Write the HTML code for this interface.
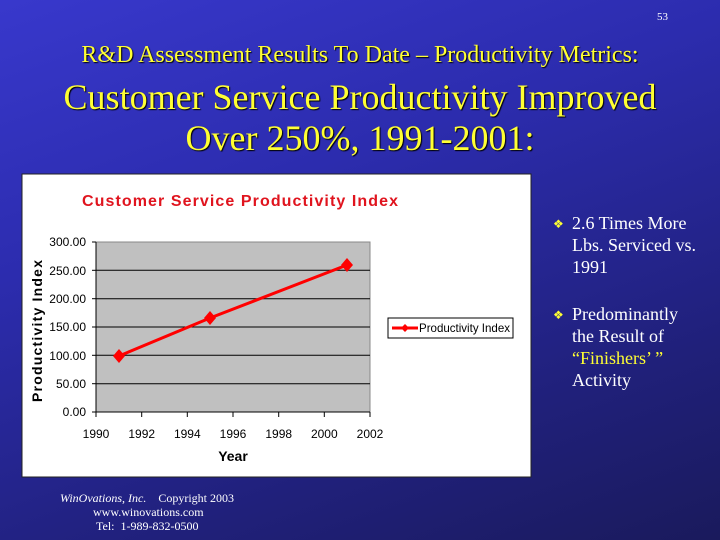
<!DOCTYPE html>
<html><head><style>
body{margin:0;width:720px;height:540px;overflow:hidden;font-family:"Liberation Serif",serif;}
#bg{position:absolute;left:0;top:0;width:720px;height:540px;background:linear-gradient(160deg,#3838cc 0%,#2c2cae 35%,#20207a 75%,#1a1a5c 100%);}
.t{position:absolute;color:#ffff33;text-align:center;width:720px;left:0;white-space:nowrap;text-shadow:1px 1px 1px #000;}
.w{position:absolute;color:#fff;font-size:18px;line-height:22px;}
</style></head><body><div id="bg"></div>
<div class="w" style="left:657px;top:6px;font-size:11px;">53</div>
<div class="t" style="top:42px;font-size:24px;">R&amp;D Assessment Results To Date – Productivity Metrics:</div>
<div class="t" style="top:76px;font-size:36px;">Customer Service Productivity Improved</div>
<div class="t" style="top:117px;font-size:36px;">Over 250%, 1991-2001:</div>
<svg style="position:absolute;left:0;top:0" width="720" height="540">
<rect x="22" y="174" width="509" height="303" fill="#fff" stroke="#222" stroke-width="1"/>
<text x="240" y="206" text-anchor="middle" fill="#e0141e" font-family="Liberation Sans" font-weight="bold" font-size="16" textLength="316" lengthAdjust="spacing">Customer Service Productivity Index</text>
<rect x="96" y="242" width="274" height="170" fill="#c0c0c0" stroke="#888"/>
<g stroke="#000" stroke-width="1">
<line x1="96" y1="270.3" x2="370" y2="270.3"/><line x1="96" y1="298.7" x2="370" y2="298.7"/>
<line x1="96" y1="327" x2="370" y2="327"/><line x1="96" y1="355.3" x2="370" y2="355.3"/>
<line x1="96" y1="383.7" x2="370" y2="383.7"/>
<line x1="96" y1="242" x2="96" y2="412"/><line x1="92" y1="412" x2="370" y2="412"/>
<line x1="92" y1="242" x2="96" y2="242"/><line x1="92" y1="270.3" x2="96" y2="270.3"/><line x1="92" y1="298.7" x2="96" y2="298.7"/><line x1="92" y1="327" x2="96" y2="327"/><line x1="92" y1="355.3" x2="96" y2="355.3"/><line x1="92" y1="383.7" x2="96" y2="383.7"/>
<line x1="96" y1="412" x2="96" y2="417"/><line x1="141.7" y1="412" x2="141.7" y2="417"/><line x1="187.3" y1="412" x2="187.3" y2="417"/><line x1="233" y1="412" x2="233" y2="417"/><line x1="278.7" y1="412" x2="278.7" y2="417"/><line x1="324.3" y1="412" x2="324.3" y2="417"/><line x1="370" y1="412" x2="370" y2="417"/>
</g>
<g font-family="Liberation Sans" font-size="12" fill="#000" text-anchor="end">
<text x="86" y="246">300.00</text><text x="86" y="275">250.00</text><text x="86" y="303">200.00</text><text x="86" y="331">150.00</text><text x="86" y="360">100.00</text><text x="86" y="388">50.00</text><text x="86" y="416">0.00</text>
</g>
<g font-family="Liberation Sans" font-size="12" fill="#000" text-anchor="middle">
<text x="96" y="438">1990</text><text x="141.7" y="438">1992</text><text x="187.3" y="438">1994</text><text x="233" y="438">1996</text><text x="278.7" y="438">1998</text><text x="324.3" y="438">2000</text><text x="370" y="438">2002</text>
</g>
<text x="233" y="461" text-anchor="middle" font-family="Liberation Sans" font-weight="bold" font-size="14">Year</text>
<text transform="translate(42,331) rotate(-90)" text-anchor="middle" font-family="Liberation Sans" font-weight="bold" font-size="14" textLength="142" lengthAdjust="spacing">Productivity Index</text>
<polyline points="119,356 210,318 347,265" fill="none" stroke="#f00" stroke-width="3"/>
<g fill="#f00"><path d="M119,349 L125,356 L119,363 L113,356Z"/><path d="M210,311 L216,318 L210,325 L204,318Z"/><path d="M347,258 L353,265 L347,272 L341,265Z"/></g>
<rect x="388" y="318" width="125" height="20" fill="#fff" stroke="#000"/>
<line x1="392" y1="328" x2="418" y2="328" stroke="#f00" stroke-width="3"/>
<path d="M405,324 L409,328 L405,332 L401,328Z" fill="#f00"/>
<text x="419" y="332" font-family="Liberation Sans" font-size="12" textLength="91" lengthAdjust="spacingAndGlyphs">Productivity Index</text>
<g fill="#ffff33" font-size="12"><text x="553" y="228">❖</text><text x="553" y="319">❖</text></g>
</svg>
<div class="w" style="left:572px;top:212px;">2.6 Times More<br>Lbs. Serviced vs.<br>1991</div>
<div class="w" style="left:572px;top:303px;">Predominantly<br>the Result of<br><span style="color:#ffff33">“Finishers’ ”</span><br>Activity</div>
<div style="position:absolute;left:60px;top:491px;color:#fff;font-size:12px;line-height:14px;">
<i>WinOvations, Inc.</i> &nbsp;&nbsp; Copyright 2003<br><span style="padding-left:33px">www.winovations.com</span><br><span style="padding-left:36px">Tel: &nbsp;1-989-832-0500</span></div>
</body></html>
